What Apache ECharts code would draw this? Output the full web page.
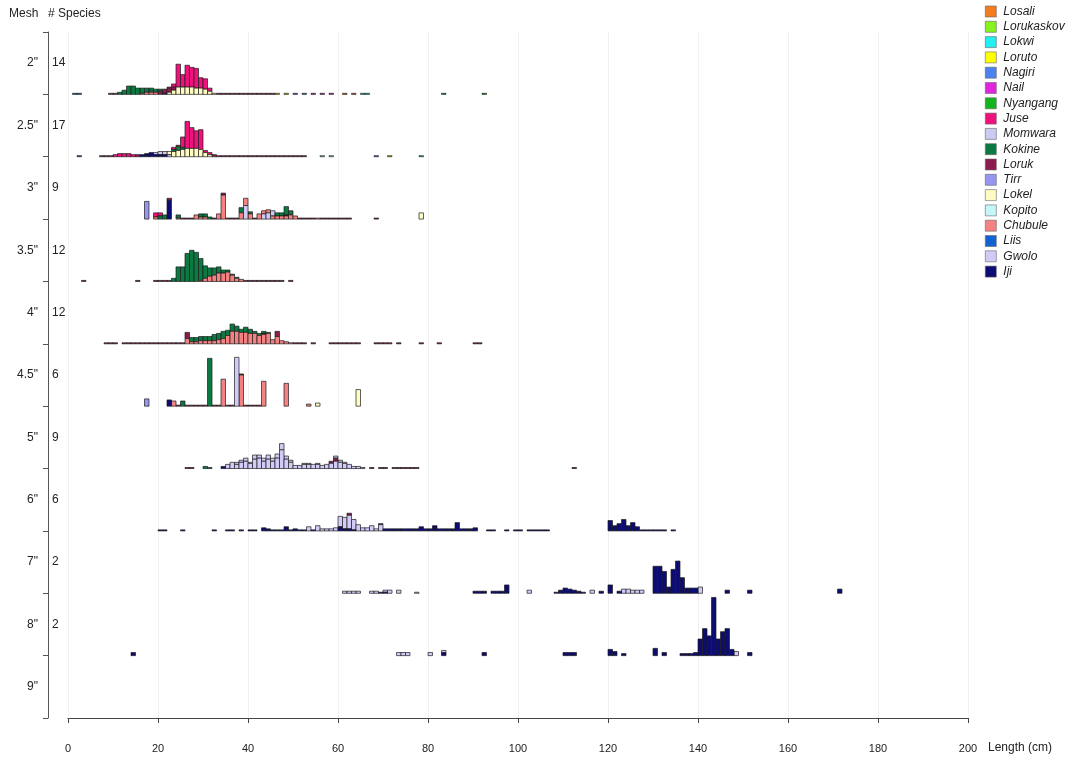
<!DOCTYPE html>
<html>
<head>
<meta charset="utf-8">
<script src="https://cdn.jsdelivr.net/npm/echarts@6/dist/echarts.min.js"></script>
<style>
html,body{margin:0;padding:0;background:#ffffff;}
#chart{width:1087px;height:762px;}
</style>
</head>
<body>
<div id="chart"></div>
<script>
// Species, in legend order (top of each stacked bar first)
const species = ['Losali','Lorukaskov','Lokwi','Loruto','Nagiri','Nail','Nyangang','Juse','Momwara',
  'Kokine','Loruk','Tirr','Lokel','Kopito','Chubule','Liis','Gwolo','Iji'];
const speciesColors = ['#f47c20','#86f21e','#22efef','#ffff00','#4b82ee','#de26de','#14b41e','#f0127c','#cccbf2',
  '#0b7a42','#8c1c4c','#9696f0','#fffbc4','#c4f8f8','#f48282','#1262d2','#d2cbf8','#0c0c72'];

// Mesh sizes (rows, top to bottom) and number of species caught in each
const mesh = ['2"','2.5"','3"','3.5"','4"','4.5"','5"','6"','7"','8"','9"'];
const speciesCount = ['14','17','9','12','12','6','9','6','2','2',''];

// x axis: length classes (cm)
const lengthTicks = [0,20,40,60,80,100,120,140,160,180,200];

// Catch per 1-cm length class, by species: [length (cm), frequency]
const catch2 = {
  Liis: [[1,1],[2,1]],
  Loruk: [[9,1],[10,1],[20,3],[21,4],[22,4],[23,3],[33,1],[34,1],[35,1],[36,1],[37,1],[38,1],[39,1],[40,1],[41,1],[42,1],[43,1],[44,1],[45,1]],
  Kokine: [[11,2],[12,4],[13,8],[14,8],[15,6],[16,5],[17,4],[18,3],[19,3],[20,2]],
  Chubule: [[16,1],[17,2],[18,2],[19,2]],
  Juse: [[22,1],[23,3],[24,22],[25,12],[26,21],[27,19],[28,19],[29,10],[30,10],[31,3]],
  Lokel: [[22,2],[23,4],[24,7],[25,7],[26,7],[27,7],[28,6],[29,6],[30,5],[31,3],[32,1]],
  Iji: [[21,1]],
  Tirr: [[18,1]],
  Loruto: [[46,1],[48,1]],
  Nagiri: [[50,1],[52,1]],
  Nail: [[54,1],[56,1],[58,1]],
  Losali: [[61,1],[63,1]],
  Lokwi: [[65,1],[66,1]],
  Nyangang: [[83,1],[92,1]]
};
const catch25 = {
  Lokel: [[22,3],[23,5],[24,6],[25,7],[26,8],[27,8],[28,8],[29,7],[30,4],[31,2]],
  Kokine: [[23,2],[24,4],[25,2]],
  Juse: [[10,2],[11,3],[12,3],[13,3],[14,2],[23,2],[24,1],[25,10],[26,26],[27,20],[28,17],[29,19],[30,2],[31,2]],
  Iji: [[16,2],[17,3],[18,4],[19,2],[20,2],[21,2]],
  Gwolo: [[19,2],[20,3],[21,3],[22,2]],
  Loruk: [[7,1],[8,1],[9,1],[15,2],[32,2],[33,1],[34,1],[35,1],[36,1],[37,1],[38,1],[39,1],[40,1],[41,1],[42,1],[43,1],[44,1],[45,1],[46,1],[47,1],[48,1],[49,1],[50,1],[51,1],[52,1]],
  Liis: [[2,1]],
  Kopito: [[56,1],[58,1]],
  Nagiri: [[68,1]],
  Loruto: [[71,1]],
  Lokwi: [[78,1]]
};
const catch3 = {
  Tirr: [[17,17]],
  Juse: [[19,4],[20,3]],
  Kokine: [[20,3],[21,4],[24,3],[29,3],[30,3],[31,2],[38,5],[40,2],[46,3],[47,3],[48,8],[49,4]],
  Chubule: [[19,2],[24,1],[28,4],[29,2],[30,2],[33,5],[34,23],[38,6],[39,7],[40,5],[42,5],[43,3],[44,3],[45,3],[46,3],[47,3],[48,3],[49,4],[50,3],[55,1]],
  Iji: [[22,18]],
  Loruk: [[22,2],[25,1],[26,1],[27,1],[32,1],[34,2],[35,1],[36,1],[37,1],[41,1],[48,1],[51,1],[52,1],[53,1],[54,1],[56,1],[57,1],[58,1],[59,1],[60,1],[61,1],[62,1],[68,1]],
  Gwolo: [[39,13],[43,5],[44,6]],
  Momwara: [[45,5]],
  Lokel: [[78,6]]
};
const catch35 = {
  Kokine: [[23,3],[24,14],[25,14],[26,27],[27,30],[28,28],[29,21],[30,12],[31,8],[32,7],[33,6],[34,3],[35,2],[36,1],[37,1]],
  Chubule: [[29,1],[30,3],[31,5],[32,6],[33,8],[34,8],[35,9],[36,6],[37,3],[38,2]],
  Loruk: [[3,1],[15,1],[19,1],[20,1],[21,1],[22,1],[39,1],[40,1],[41,1],[42,1],[43,1],[44,1],[45,1],[46,1],[47,1],[49,1]]
};
const catch4 = {
  Loruk: [[8,1],[9,1],[10,1],[12,1],[13,1],[14,1],[15,1],[16,1],[17,1],[18,1],[19,1],[20,1],[21,1],[22,1],[23,1],[24,1],[25,1],[26,6],[43,1],[46,5],[50,1],[51,1],[52,1],[54,1],[58,1],[59,1],[60,1],[61,1],[62,1],[63,1],[64,1],[68,1],[69,1],[70,1],[71,1],[73,1],[78,1],[82,1],[90,1],[91,1]],
  Chubule: [[26,5],[27,2],[28,2],[29,3],[30,3],[31,3],[32,3],[33,4],[34,5],[35,8],[36,12],[37,12],[38,11],[39,11],[40,10],[41,10],[42,8],[43,9],[44,10],[45,4],[46,7],[47,3],[48,2],[49,1]],
  Kokine: [[27,4],[28,4],[29,4],[30,4],[31,4],[32,6],[33,6],[34,7],[35,5],[36,7],[37,5],[38,3],[39,5],[40,4],[41,2],[42,2],[43,2],[44,1]]
};
const catch45 = {
  Tirr: [[17,7]],
  Iji: [[22,6]],
  Chubule: [[23,5],[34,26],[38,30],[43,24],[48,22],[53,2]],
  Kokine: [[25,5],[31,46],[38,1]],
  Gwolo: [[37,47]],
  Lokel: [[55,3],[64,16]],
  Loruk: [[24,1],[26,1],[27,1],[28,1],[29,1],[30,1],[32,1],[33,1],[35,1],[36,1],[39,1],[40,1],[41,1],[42,1]]
};
const catch5 = {
  Gwolo: [[35,4],[36,6],[37,4],[38,6],[39,7],[40,5],[41,9],[42,10],[43,7],[44,9],[45,7],[46,10],[47,18],[48,9],[49,6],[50,3],[51,3],[52,4],[53,4],[54,4],[55,4],[56,3],[57,4],[58,5],[59,7],[60,6],[61,5],[62,4],[63,2],[64,2],[65,1]],
  Momwara: [[37,2],[38,2],[39,3],[40,1],[41,4],[42,3],[43,3],[44,4],[45,3],[46,4],[47,6],[48,3],[49,2],[52,1],[53,1],[55,1],[59,2],[60,2],[61,1]],
  Loruk: [[26,1],[27,1],[58,2],[59,3],[67,1],[69,1],[70,1],[72,1],[73,1],[74,1],[75,1],[76,1],[77,1],[112,1]],
  Kokine: [[30,2],[31,1]],
  Iji: [[34,2]]
};
const catch6 = {
  Iji: [[20,1],[21,1],[25,1],[32,1],[35,1],[36,1],[38,1],[40,1],[41,1],[43,3],[44,2],[45,1],[46,1],[47,1],[48,4],[49,1],[50,2],[51,1],[52,1],[54,1],
    [60,4],[61,2],[62,2],[63,1],[70,2],[71,2],[72,2],[73,2],[74,2],[75,2],[76,2],[77,2],[78,4],[79,2],[80,2],[81,5],[82,2],[83,2],[84,2],[85,2],[86,8],[87,2],[88,2],[89,2],[90,3],
    [93,1],[94,1],[97,1],[99,1],[100,1],[102,1],[103,1],[104,1],[105,1],[106,1],
    [120,10],[121,5],[122,7],[123,11],[124,5],[125,8],[126,4],[127,1],[128,1],[129,1],[130,1],[131,1],[132,1],[134,1]],
  Gwolo: [[53,4],[55,5],[56,2],[57,2],[58,2],[59,3],[60,10],[61,11],[62,13],[63,10],[64,6],[65,3],[66,3],[67,5],[68,2],[69,6]],
  Loruk: [[62,2],[69,1]]
};
const catch7 = {
  Gwolo: [[61,2],[62,2],[63,2],[64,2],[67,2],[68,2],[70,2],[71,3],[73,3],[77,1],[102,3],[116,3],[123,4],[124,4],[125,3],[126,3],[127,3],[140,6]],
  Iji: [[69,1],[70,1],[90,2],[91,2],[92,2],[94,2],[95,2],[96,2],[97,8],[108,1],[109,3],[110,5],[111,4],[112,3],[113,2],[114,1],[118,2],[120,8],[122,2],
    [130,26],[131,26],[132,21],[133,6],[134,23],[135,31],[136,15],[137,5],[138,5],[139,5],[146,3],[151,3],[171,4]]
};
const catch8 = {
  Iji: [[14,3],[83,3],[92,3],[110,3],[111,3],[112,3],[120,6],[121,4],[123,2],[130,7],[132,3],[136,2],[137,2],[138,2],[139,3],
    [140,16],[141,26],[142,19],[143,56],[144,16],[145,23],[146,26],[147,6],[151,3]],
  Gwolo: [[73,3],[74,3],[75,3],[80,3],[83,2],[148,4]]
};
const catch9 = {};

const catchByMesh = [catch2, catch25, catch3, catch35, catch4, catch45, catch5, catch6, catch7, catch8, catch9];

// Each mesh row gets its own band of the value axis
const BAND = 60;
const nRows = mesh.length;
const FONT = '"Liberation Sans", Arial, Helvetica, sans-serif';

// Stack species bottom-up in reverse legend order
const stackOrder = species.slice().reverse();
const seriesData = {};
species.forEach(s => { seriesData[s] = []; });
catchByMesh.forEach((row, r) => {
  const base = (nRows - 1 - r) * BAND;
  const level = {};
  stackOrder.forEach(sp => {
    (row[sp] || []).forEach(([len, v]) => {
      const y0 = level[len] || 0;
      const y1 = y0 + v;
      level[len] = y1;
      seriesData[sp].push([len, base + y0, base + y1, r, v]);
    });
  });
});

function renderBar(params, api) {
  const len = api.value(0);
  const lo = api.coord([len, api.value(1)]);
  const hi = api.coord([len + 1, api.value(2)]);
  return {
    type: 'rect',
    shape: { x: lo[0], y: hi[1], width: hi[0] - lo[0], height: lo[1] - hi[1] },
    style: { fill: api.visual('color'), stroke: '#1c1c1c', lineWidth: 0.7 }
  };
}

const series = species.map((sp, i) => ({
  name: sp,
  type: 'custom',
  xAxisIndex: 0,
  yAxisIndex: 0,
  renderItem: renderBar,
  itemStyle: { color: speciesColors[i] },
  encode: { x: 0, y: 2 },
  data: seriesData[sp],
  silent: true
}));

const chart = echarts.init(document.getElementById('chart'), null, { renderer: 'canvas' });
chart.setOption({
  animation: false,
  backgroundColor: '#ffffff',
  textStyle: { fontFamily: FONT },
  grid: { left: 68, right: 119, top: 32, bottom: 44, containLabel: false },
  legend: {
    orient: 'vertical',
    left: 985,
    top: 5.5,
    padding: 0,
    itemWidth: 11,
    itemHeight: 11,
    itemGap: 3.3,
    icon: 'rect',
    selectedMode: false,
    itemStyle: { borderColor: '#666', borderWidth: 0.6 },
    textStyle: { fontStyle: 'italic', fontSize: 12, lineHeight: 11, color: '#222', fontFamily: FONT, padding: [0, 0, 0, 2] },
    data: species
  },
  xAxis: {
    type: 'value',
    min: lengthTicks[0],
    max: lengthTicks[lengthTicks.length - 1],
    interval: 20,
    offset: 14,
    axisLine: { show: true, lineStyle: { color: '#444', width: 1 } },
    axisTick: { show: true, length: 5, lineStyle: { color: '#444' } },
    axisLabel: { fontSize: 11, color: '#222', margin: 11, fontFamily: FONT },
    splitLine: { show: true, lineStyle: { color: '#f1f1f1', width: 1 } }
  },
  yAxis: [
    { type: 'value', min: 0, max: nRows * BAND, show: false, splitLine: { show: false } },
    {
      type: 'category', data: mesh, inverse: true, position: 'left', offset: 20,
      axisLine: { show: true, lineStyle: { color: '#555', width: 1 } },
      axisTick: { show: true, length: 5, lineStyle: { color: '#555' } },
      axisLabel: { fontSize: 12, color: '#222', margin: 10, fontFamily: FONT },
      splitLine: { show: false }
    },
    {
      type: 'category', data: speciesCount, inverse: true, position: 'left', offset: 20,
      axisLine: { show: false }, axisTick: { show: false },
      axisLabel: { inside: true, fontSize: 12, color: '#222', margin: 4, fontFamily: FONT },
      splitLine: { show: false }
    }
  ],
  graphic: [
    { type: 'text', left: 9, top: 8, style: { text: 'Mesh', fontSize: 12, fill: '#222', fontFamily: FONT } },
    { type: 'text', left: 48, top: 8, style: { text: '# Species', fontSize: 12, fill: '#222', fontFamily: FONT } },
    { type: 'text', left: 988, top: 742, style: { text: 'Length (cm)', fontSize: 12, fill: '#222', fontFamily: FONT } }
  ],
  series: series
});
</script>
</body>
</html>
